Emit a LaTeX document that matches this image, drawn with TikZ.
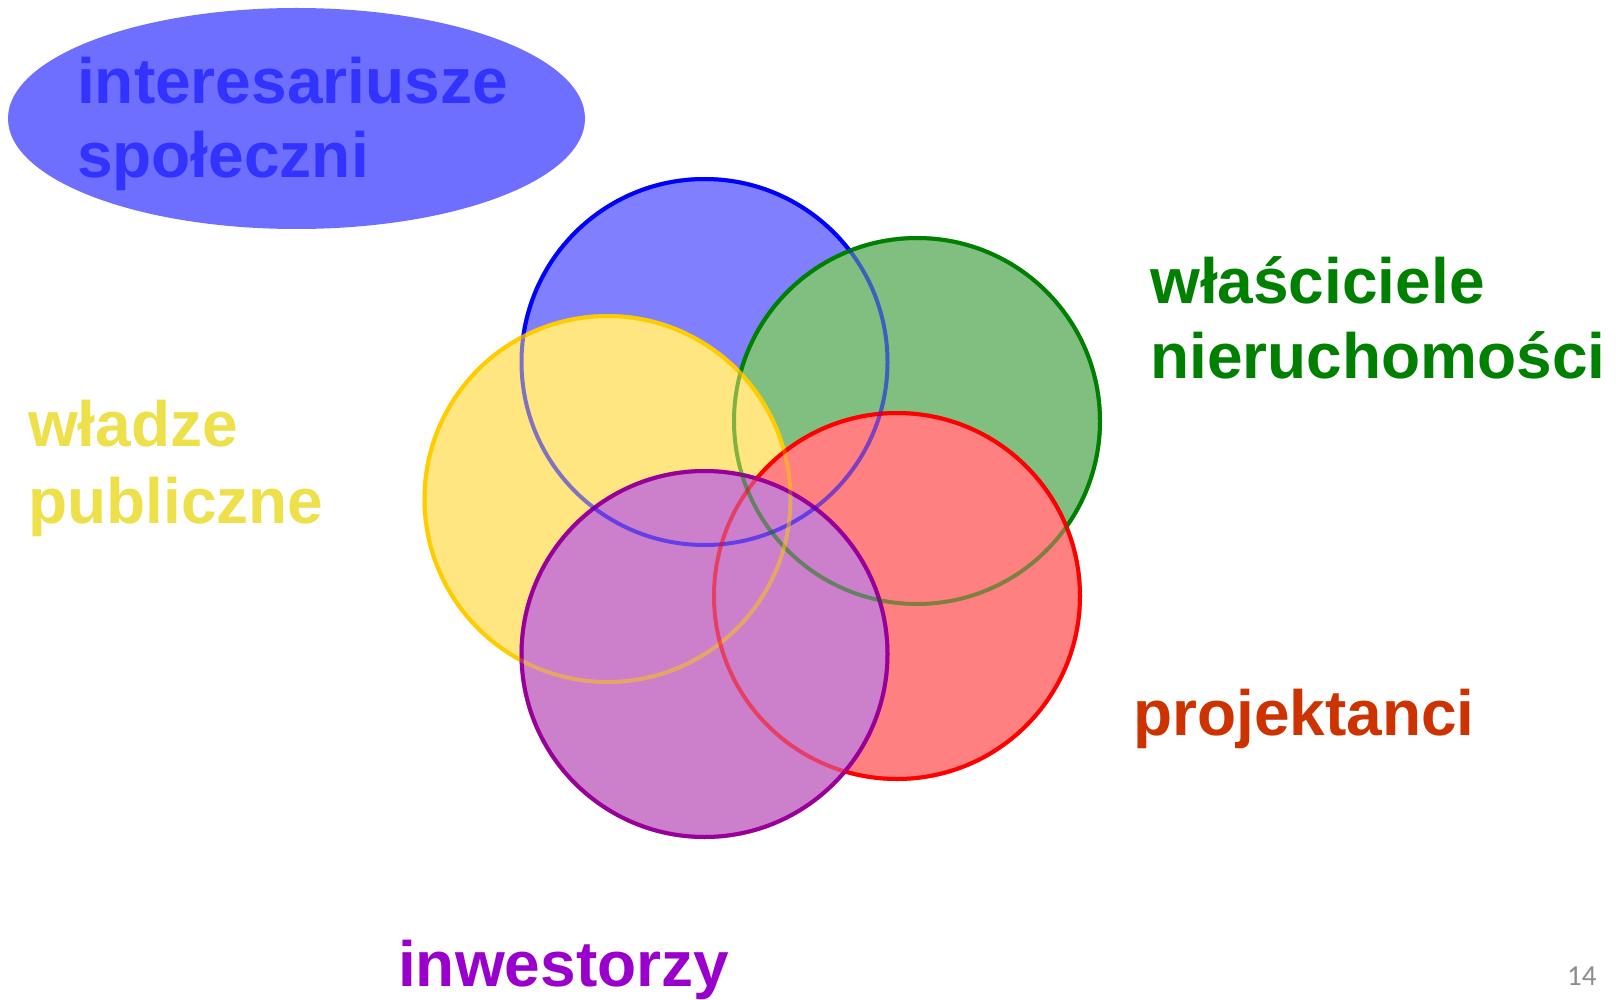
\documentclass[tikz,border=0pt]{standalone}
\usepackage{fontspec}
\usetikzlibrary{shapes.geometric}
\setmainfont{Liberation Sans}
\newfontfamily\pagenofont{Carlito}
\definecolor{cblue}{HTML}{0000FF}
\definecolor{cgreen}{HTML}{008000}
\definecolor{cyellow}{HTML}{FFCC00}
\definecolor{cred}{HTML}{FF0000}
\definecolor{cpurple}{HTML}{990099}
\definecolor{tyellow}{HTML}{EEE04A}
\definecolor{tgreen}{HTML}{008000}
\definecolor{tred}{HTML}{CC3300}
\definecolor{tpurple}{HTML}{9900CC}
\definecolor{tblue}{HTML}{3333FF}
\definecolor{ellfill}{HTML}{6E6EFF}
\definecolor{pagegray}{HTML}{8C8C8C}
\tikzset{
  ring/.style={circle, minimum size=366pt, inner sep=0pt},
  ringfill/.style={fill=#1!50!white},
  ringline/.style={draw=#1, line width=4pt},
  biglabel/.style={anchor=base west, inner sep=0pt, font=\fontsize{64}{76}\selectfont\bfseries},
}
\begin{document}
\begin{tikzpicture}[x=1pt,y=-1pt]
\useasboundingbox (0,0) rectangle (1616,1000);
\fill[white] (0,0) rectangle (1616,1000);
% title ellipse
\node[ellipse, draw=none, fill=ellfill, minimum width=577pt, minimum height=221pt, inner sep=0pt] (ell) at (296.5,118.5) {};
\node[biglabel, text=tblue] (t1) at (77,104) {interesariusze};
\node[biglabel, text=tblue] (t2) at (77,178) {społeczni};
% circles: opaque light fills, each followed by its outline
\node[ring, ringfill=cblue, ringline=cblue] (cb) at (704.5,362) {};
\node[ring, ringfill=cgreen, ringline=cgreen] (cg) at (917,421) {};
\node[ring, ringfill=cyellow, ringline=cyellow] (cy) at (607.5,499) {};
\node[ring, ringfill=cred, ringline=cred] (cr) at (897,596) {};
\node[ring, ringfill=cpurple, ringline=cpurple] (cp) at (704.5,654) {};
% outlines seen through the fills above them
\begin{scope}[draw opacity=0.5]
\draw[ringline=cblue] (cb.center) circle[radius=183pt];
\draw[ringline=cgreen] (cg.center) circle[radius=183pt];
\draw[ringline=cyellow] (cy.center) circle[radius=183pt];
\draw[ringline=cred] (cr.center) circle[radius=183pt];
\draw[ringline=cpurple] (cp.center) circle[radius=183pt];
\end{scope}
% labels
\node[biglabel, text=tyellow] (w1) at (28,446) {władze};
\node[biglabel, text=tyellow] (w2) at (28,523) {publiczne};
\node[biglabel, text=tgreen] (g1) at (1150,303) {właściciele};
\node[biglabel, text=tgreen] (g2) at (1150,378) {nieruchomości};
\node[biglabel, text=tred] (r1) at (1133,735) {projektanci};
\node[biglabel, text=tpurple] (p1) at (398,986) {inwestorzy};
\node[anchor=base west, inner sep=0pt, text=pagegray, font=\pagenofont\fontsize{29}{34}\selectfont] (pg) at (1567,985) {14};
\end{tikzpicture}
\end{document}
